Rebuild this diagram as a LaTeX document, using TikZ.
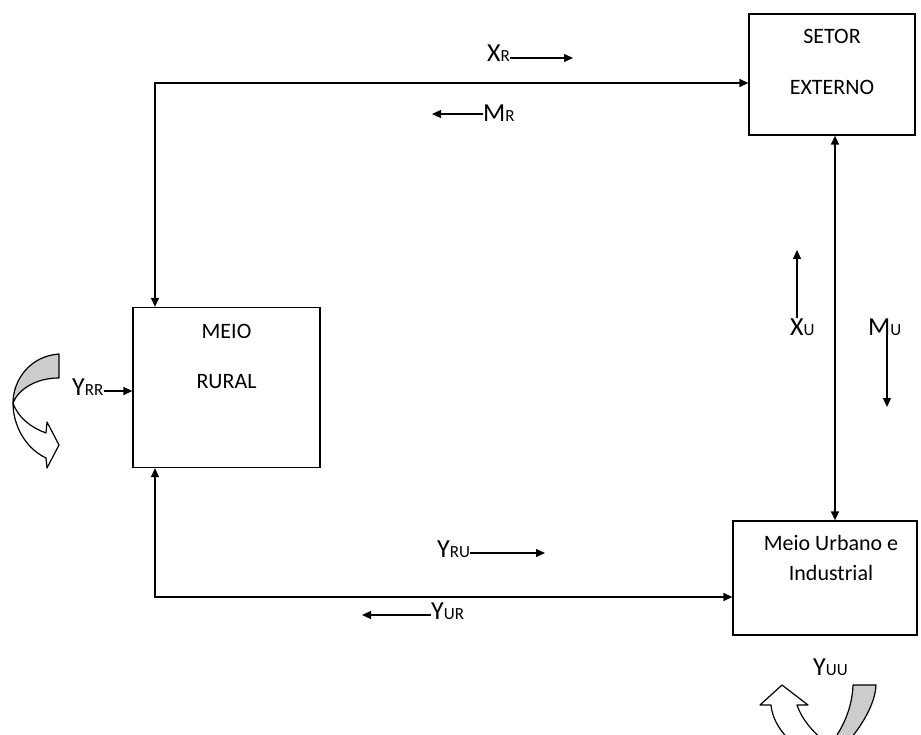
\documentclass[tikz,border=0pt]{standalone}
\usepackage{fontspec}
\setmainfont{Carlito}
\usetikzlibrary{positioning,arrows.meta,calc}
\tikzset{
    box/.style={draw,line width=1.3pt,inner sep=0pt},
    boxtext/.style={font=\fontsize{22}{26}\selectfont,align=center,inner sep=0pt},
    flow/.style={draw,line width=1.3pt,-{Triangle[length=9pt,width=8pt]}},
    dflow/.style={draw,line width=1.3pt,{Triangle[length=9pt,width=8pt]}-{Triangle[length=9pt,width=8pt]}},
    varlbl/.style={font=\fontsize{26}{30}\selectfont,inner sep=0pt,anchor=base west},
    twistgray/.style={draw,fill=black!20,line width=1.2pt,line join=round},
    twistwhite/.style={draw,fill=white,line width=1.2pt,line join=round},
}
\newcommand{\lowcaps}[1]{{\fontsize{17}{19}\selectfont #1}}

\begin{document}
\begin{tikzpicture}[x=1pt,y=-1pt]
    \useasboundingbox (0,0) rectangle (921,735);
    % setores
    \node[box,minimum width=166pt,minimum height=121pt] (ext) at (832,74.5) {};
    \node[box,minimum width=187pt,minimum height=160pt] (rural) at (226.5,387.5) {};
    \node[box,minimum width=184pt,minimum height=114pt] (urb) at (825,578) {};
    \node[boxtext,below=16pt of ext.north] (exttxt) {SETOR\\[25pt]EXTERNO};
    \node[boxtext,below=17pt of rural.north] (ruraltxt) {MEIO\\[24pt]RURAL};
    \node[boxtext,below=15pt of urb.north,xshift=6pt] (urbtxt) {Meio Urbano e\\[4pt]Industrial};

    % fluxos principais
    \coordinate (tl) at (155,83);
    \coordinate (bl) at (155,597);
    \coordinate (vx) at (835,0);
    \draw[dflow] (tl -| ext.west) -- (tl) -- (tl |- rural.north);
    \draw[dflow] (bl |- rural.south) -- (bl) -- (bl -| urb.west);
    \draw[dflow] (vx |- ext.south) -- (vx |- urb.north);

    % rotulos dos fluxos
    \node[varlbl] (xr) at (487,62) {X\lowcaps{R}};
    \coordinate (xrend) at (573,58);
    \draw[flow] (xr.east |- xrend) -- (xrend);

    \node[varlbl] (mr) at (483,122) {M\lowcaps{R}};
    \coordinate (mrend) at (432,114);
    \draw[flow] (mr.west |- mrend) -- (mrend);

    \node[varlbl] (xu) at (790,335) {X\lowcaps{U}};
    \coordinate (xuend) at (797,250);
    \draw[flow] (xuend |- xu.north) -- (xuend);

    \node[varlbl] (mu) at (868,335) {M\lowcaps{U}};
    \coordinate (muend) at (887,407);
    \draw[flow] (muend |- mu.south) -- ++(0,3) -- (muend);

    \node[varlbl] (yrr) at (72,395) {Y\lowcaps{RR}};
    \coordinate (yrrend) at (rural.west |- 0,391);
    \draw[flow] (yrr.east |- yrrend) -- (yrrend);

    \node[varlbl] (yru) at (437,557) {Y\lowcaps{RU}};
    \coordinate (yruend) at (545,553);
    \draw[flow] (yru.east |- yruend) -- (yruend);

    \node[varlbl] (yur) at (431,619) {Y\lowcaps{UR}};
    \coordinate (yurend) at (362,615);
    \draw[flow] (yur.west |- yurend) -- (yurend);

    \node[varlbl] (yuu) at (813,675) {Y\lowcaps{UU}};

    % setas curvas
    \begin{scope}
        \clip (0,0) rectangle (921,735);
        \path[twistwhite] (13,403) .. controls (13,425) and (25,448) .. (46,458)
            -- (47,468) -- (59,445) -- (47,422) -- (46,433)
            .. controls (32,428) and (18,418) .. (13,403) -- cycle;
        \path[twistgray] (59,354) .. controls (30,356) and (13,380) .. (13,403)
            .. controls (18,390) and (35,378) .. (59,378) -- cycle;
        \path[twistwhite] (771,705) -- (760,705) -- (782,685) -- (808,705) -- (797,705)
            .. controls (802,720) and (815,735) .. (830,745) -- (828,762)
            .. controls (795,752) and (773,728) .. (771,705) -- cycle;
        \path[twistgray] (853,685) -- (876,685) .. controls (875,712) and (848,745) .. (828,762)
            -- (830,745) .. controls (840,732) and (852,712) .. (853,685) -- cycle;
    \end{scope}
\end{tikzpicture}
\end{document}
